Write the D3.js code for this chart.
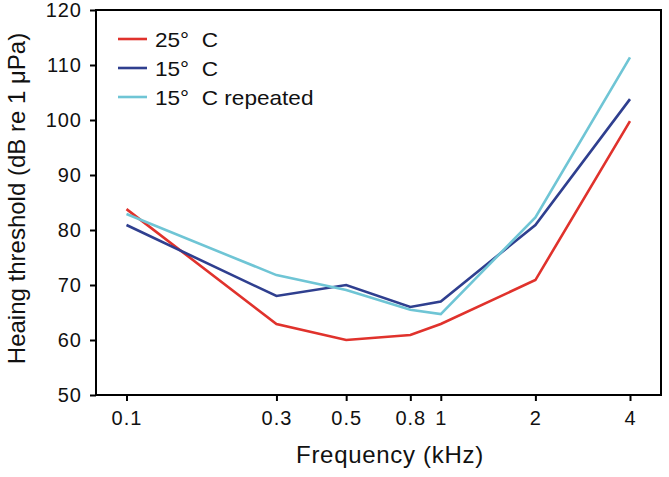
<!DOCTYPE html>
<html>
<head>
<meta charset="utf-8">
<script src="https://cdn.jsdelivr.net/npm/d3@7"></script>
<style>
  html, body { margin: 0; padding: 0; background: #fff; }
  svg { display: block; font-family: "Liberation Sans", Arial, sans-serif; }
</style>
</head>
<body>
<svg id="chart" width="669" height="477"></svg>
<script>
const frequencies = [0.1, 0.3, 0.5, 0.8, 1, 2, 4];
const xTickLabels = ["0.1", "0.3", "0.5", "0.8", "1", "2", "4"];
const yTicks = [50, 60, 70, 80, 90, 100, 110, 120];
const seriesNames = ["25°\u00a0\u00a0C", "15°\u00a0\u00a0C", "15°\u00a0\u00a0C repeated"];
const seriesColors = ["#e0322c", "#2f3f8f", "#6fc5d5"];
const temp25 = [83.8, 62.9, 60.0, 60.9, 62.9, 70.9, 99.8];
const temp15 = [80.9, 68.0, 70.0, 66.0, 67.0, 80.9, 103.8];
const temp15rep = [82.9, 71.8, 69.1, 65.5, 64.7, 82.3, 111.4];
const seriesValues = [temp25, temp15, temp15rep];

const svg = d3.select("#chart");
const plotLeft = 96, plotRight = 661, plotTop = 10, plotBottom = 395;

const x = d3.scaleLog().domain([0.1, 4]).range([126.5, 630]);
const y = d3.scaleLinear().domain([50, 120]).range([plotBottom, plotTop]);

// frame
svg.append("rect")
  .attr("x", plotLeft).attr("y", plotTop)
  .attr("width", plotRight - plotLeft).attr("height", plotBottom - plotTop)
  .attr("fill", "none").attr("stroke", "#000").attr("stroke-width", 2);

// y axis
const yAxis = svg.append("g")
  .attr("transform", `translate(${plotLeft},0)`)
  .call(d3.axisLeft(y).tickValues(yTicks).tickSize(6).tickPadding(8).tickFormat(d3.format("d")));
yAxis.select(".domain").remove();
yAxis.selectAll("line").attr("stroke", "#000").attr("stroke-width", 2);
yAxis.selectAll("text").attr("font-size", 20).attr("fill", "#111")
  .attr("letter-spacing", "1px")
  .attr("font-family", "Liberation Sans, Arial, sans-serif");

// x axis
const xAxis = svg.append("g")
  .attr("transform", `translate(0,${plotBottom})`)
  .call(d3.axisBottom(x).tickValues(frequencies).tickSize(6).tickPadding(10)
    .tickFormat((d, i) => xTickLabels[i]));
xAxis.select(".domain").remove();
xAxis.selectAll("line").attr("stroke", "#000").attr("stroke-width", 2);
xAxis.selectAll("text").attr("font-size", 20).attr("fill", "#111")
  .attr("letter-spacing", "1px")
  .attr("font-family", "Liberation Sans, Arial, sans-serif");

// lines
const line = d3.line().x((d, i) => x(frequencies[i])).y(d => y(d));
seriesValues.forEach((vals, k) => {
  svg.append("path")
    .datum(vals)
    .attr("d", line)
    .attr("fill", "none")
    .attr("stroke", seriesColors[k])
    .attr("stroke-width", 2.6)
    .attr("stroke-linejoin", "miter");
});

// legend
const legend = svg.append("g");
seriesNames.forEach((name, k) => {
  const ly = 39 + k * 29;
  legend.append("line")
    .attr("x1", 118).attr("x2", 147).attr("y1", ly).attr("y2", ly)
    .attr("stroke", seriesColors[k]).attr("stroke-width", 2.6);
  legend.append("text")
    .attr("transform", `translate(155,${ly + 7.5}) scale(1.13,1)`)
    .attr("font-size", 20).attr("fill", "#111")
    .style("white-space", "pre")
    .text(name);
});

// axis titles
svg.append("text")
  .attr("x", 390).attr("y", 463)
  .attr("text-anchor", "middle")
  .attr("font-size", 24).attr("fill", "#111")
  .attr("letter-spacing", "0.7px")
  .text("Frequency (kHz)");

svg.append("text")
  .attr("transform", "translate(25,198.5) rotate(-90)")
  .attr("text-anchor", "middle")
  .attr("font-size", 24).attr("fill", "#111")
  .text("Heaing threshold (dB re 1 μPa)");
</script>
</body>
</html>
